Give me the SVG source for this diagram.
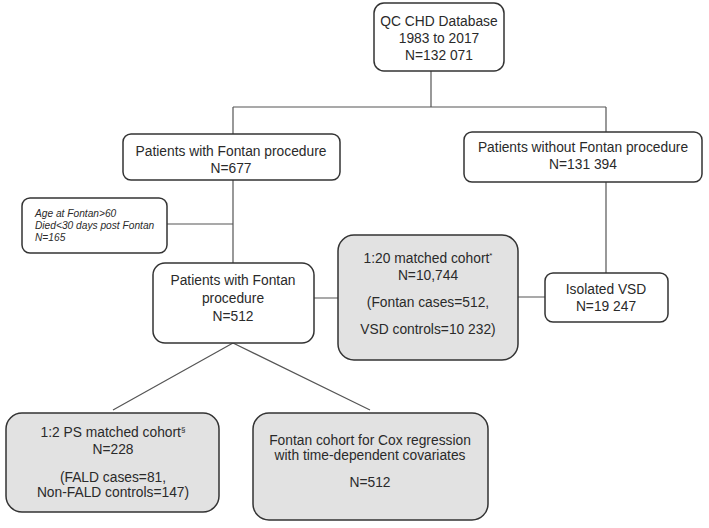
<svg xmlns="http://www.w3.org/2000/svg" width="709" height="528" viewBox="0 0 709 528">
<style>
.b{fill:#fff;stroke:#333;stroke-width:1.5}
.g{fill:#e2e2e2;stroke:#333;stroke-width:1.5}
.t{font-family:"Liberation Sans",Arial,sans-serif;font-size:13.8px;fill:#2a2a2a;text-anchor:middle}
.i{font-family:"Liberation Sans",Arial,sans-serif;font-size:10.2px;fill:#2a2a2a;font-style:italic}
.c{stroke:#555;stroke-width:1.2;fill:none}
</style>
<rect width="709" height="528" fill="#fff"/>
<g id="connectors">
<path class="c" d="M431 71V107M233 107H606M233 107V134M606 107V132M233 180V263M167 224H233M606 182V273M314 298H338M518 297H545M233 343L113 410M233 343L370 410"/>
</g>
<g id="db">
<rect class="b" x="374" y="3" width="130" height="68" rx="10"/>
<text class="t" x="439" y="26">QC CHD Database</text>
<text class="t" x="439" y="43">1983 to 2017</text>
<text class="t" x="439" y="60">N=132 071</text>
</g>
<g id="fontan">
<rect class="b" x="123" y="134" width="217" height="46" rx="8"/>
<text class="t" x="231" y="156">Patients with Fontan procedure</text>
<text class="t" x="231" y="173">N=677</text>
</g>
<g id="nofontan">
<rect class="b" x="464" y="132" width="238" height="50" rx="8"/>
<text class="t" x="583" y="152">Patients without Fontan procedure</text>
<text class="t" x="583" y="169">N=131 394</text>
</g>
<g id="excluded">
<rect class="b" x="22" y="198" width="145" height="55" rx="8"/>
<text class="i" x="35" y="217">Age at Fontan&gt;60</text>
<text class="i" x="35" y="229">Died&lt;30 days post Fontan</text>
<text class="i" x="35" y="241">N=165</text>
</g>
<g id="fontan512">
<rect class="b" x="153" y="263" width="161" height="80" rx="12"/>
<text class="t" x="233" y="285">Patients with Fontan</text>
<text class="t" x="233" y="303">procedure</text>
<text class="t" x="233" y="321">N=512</text>
</g>
<g id="matched20">
<rect class="g" x="338" y="235" width="180" height="125" rx="16"/>
<text class="t" x="428" y="263">1:20 matched cohort<tspan font-size="8" dy="-5">*</tspan></text>
<text class="t" x="428" y="280">N=10,744</text>
<text class="t" x="428" y="307">(Fontan cases=512,</text>
<text class="t" x="428" y="334">VSD controls=10 232)</text>
</g>
<g id="vsd">
<rect class="b" x="545" y="273" width="123" height="49" rx="8"/>
<text class="t" x="606" y="294">Isolated VSD</text>
<text class="t" x="606" y="311">N=19 247</text>
</g>
<g id="ps">
<rect class="g" x="6" y="413" width="213" height="99" rx="16"/>
<text class="t" x="113" y="437">1:2 PS matched cohort<tspan font-size="8" dy="-5">§</tspan></text>
<text class="t" x="113" y="454">N=228</text>
<text class="t" x="113" y="482">(FALD cases=81,</text>
<text class="t" x="113" y="497">Non-FALD controls=147)</text>
</g>
<g id="cox">
<rect class="g" x="253" y="413" width="235" height="107" rx="16"/>
<text class="t" x="370" y="445">Fontan cohort for Cox regression</text>
<text class="t" x="370" y="460">with time-dependent covariates</text>
<text class="t" x="370" y="487">N=512</text>
</g>
</svg>
